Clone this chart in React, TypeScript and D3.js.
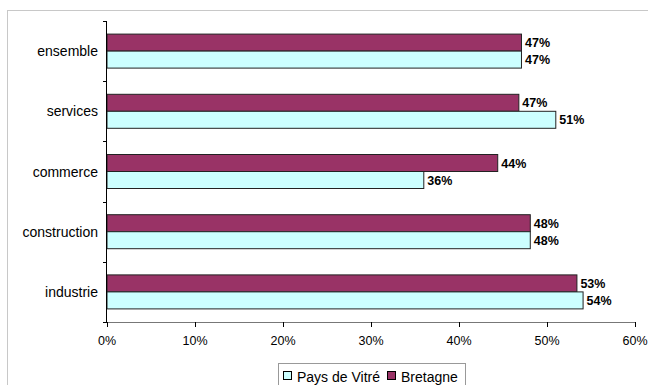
import React from "react";
import * as d3 from "d3";

const categories = ["ensemble", "services", "commerce", "construction", "industrie"];
const paysDeVitre = [47.1, 51.0, 36.0, 48.1, 54.1];
const bretagne = [47.1, 46.8, 44.4, 48.1, 53.4];
const seriesNames = ["Pays de Vitré", "Bretagne"];
const seriesColors = ["#CCFFFF", "#993366"];
const xTicks = [0, 10, 20, 30, 40, 50, 60];

export default function App() {
  const W = 648, H = 385;
  const x = d3.scaleLinear().domain([0, 60]).range([107, 635]);
  const y = d3.scaleBand().domain(categories).range([21, 322]);
  const barH = 17;
  const font = "Arial, 'Liberation Sans', sans-serif";

  return (
    <svg width={W} height={H} style={{ position: "absolute", left: 0, top: 0, background: "#fff" }} fontFamily={font}>
      <rect x={7.5} y={10.5} width={700} height={400} fill="#fff" stroke="#c8c8c8" />
      {/* bars */}
      {categories.map((c, i) => {
        const cy = (y(c) as number) + y.bandwidth() / 2;
        const vals = [
          { v: bretagne[i], color: seriesColors[1], top: cy - barH },
          { v: paysDeVitre[i], color: seriesColors[0], top: cy },
        ];
        return (
          <g key={c}>
            {vals.map((d, j) => (
              <g key={j}>
                <rect x={x(0)} y={d.top} width={x(d.v) - x(0)} height={barH} fill={d.color} stroke="#222" strokeWidth={1} />
                <text x={x(d.v) + 3.5} y={d.top + barH / 2 + 4.5} fontSize={12.5} fontWeight="bold" fill="#000">
                  {Math.round(d.v)}%
                </text>
              </g>
            ))}
            <text x={98} y={cy + 5} fontSize={14} textAnchor="end" fill="#000">{c}</text>
          </g>
        );
      })}
      {/* y axis */}
      <line x1={x(0) - 0.5} x2={x(0) - 0.5} y1={21} y2={322} stroke="#000" />
      {[...categories.map((c) => y(c) as number), 322].map((t, i) => (
        <line key={i} x1={x(0) - 4} x2={x(0)} y1={Math.round(t) + 0.5} y2={Math.round(t) + 0.5} stroke="#000" />
      ))}
      {/* x axis */}
      <line x1={x(0)} x2={x(60)} y1={322.5} y2={322.5} stroke="#777" />
      {xTicks.map((t) => (
        <g key={t}>
          <line x1={Math.round(x(t)) + 0.5} x2={Math.round(x(t)) + 0.5} y1={322} y2={327} stroke="#000" />
          <text x={x(t)} y={345} fontSize={12.5} textAnchor="middle" fill="#000">{t}%</text>
        </g>
      ))}
      {/* legend */}
      <rect x={278.5} y={363.5} width={187} height={30} fill="#fff" stroke="#999" />
      <rect x={283.5} y={371.5} width={8} height={8} fill={seriesColors[0]} stroke="#000" />
      <text x={297} y={381.5} fontSize={14} fill="#000">{seriesNames[0]}</text>
      <rect x={387.5} y={371.5} width={8} height={8} fill={seriesColors[1]} stroke="#000" />
      <text x={401} y={381.5} fontSize={14} fill="#000">{seriesNames[1]}</text>
    </svg>
  );
}
